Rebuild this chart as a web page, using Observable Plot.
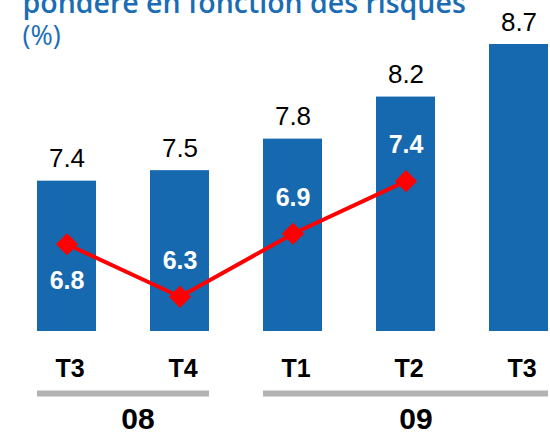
<!DOCTYPE html>
<html>
<head>
<meta charset="utf-8">
<script src="https://cdn.jsdelivr.net/npm/d3@7"></script>
<script src="https://cdn.jsdelivr.net/npm/@observablehq/plot@0.6"></script>
<style>
  html, body { margin: 0; padding: 0; background: #ffffff; }
  #chart svg { display: block; }
</style>
</head>
<body>
<div id="chart"></div>
<script>
// ---- data ----
const quarters = ["T3", "T4", "T1", "T2", "T3"];
const years = ["08", "08", "09", "09", "09"];
const barValues = [7.4, 7.5, 7.8, 8.2, 8.7];
const lineValues = [6.8, 6.3, 6.9, 7.4, null];
const yearLabels = ["08", "09"];
const titleText = "pondéré en fonction des risques";
const unitText = "(%)";

// ---- build table ----
const keys = quarters.map((q, i) => years[i] + " " + q);
const data = keys.map((k, i) => ({
  key: k, quarter: quarters[i], year: years[i], bar: barValues[i], line: lineValues[i]
}));
const lineData = data.filter(d => d.line != null);
const groups = yearLabels.map(y => {
  const ks = data.filter(d => d.year === y).map(d => d.key);
  return {year: y, first: ks[0], last: ks[ks.length - 1]};
});
const quarterOf = Object.fromEntries(data.map(d => [d.key, d.quarter]));

const yMin = 5.97;
const barColor = "#1769af";
const titleColor = "#1a6db5";
const sans = "'Liberation Sans', Arial, sans-serif";

const chart = Plot.plot({
  width: 550,
  height: 434,
  marginLeft: 36,
  marginRight: 2,
  marginTop: 44,
  marginBottom: 103,
  style: {background: "#ffffff", fontFamily: sans, color: "#000", overflow: "visible"},
  x: {domain: keys, paddingInner: 0.478, paddingOuter: 0, align: 0.5},
  y: {domain: [yMin, 8.7], axis: null},
  marks: [
    // title (partially cut at the top) and unit
    Plot.text([titleText], {frameAnchor: "top-left", text: d => d, textAnchor: "start", lineAnchor: "bottom",
      dx: -14, dy: -32, fontSize: 28.5, fontWeight: 600, fill: titleColor, fontFamily: "'Open Sans', sans-serif"}),
    Plot.text([unitText], {frameAnchor: "top-left", text: d => d, textAnchor: "start", lineAnchor: "bottom",
      dx: -14, dy: 0, fontSize: 27, fontWeight: 500, fill: titleColor, fontFamily: "'Open Sans', sans-serif"}),
    // bars
    Plot.barY(data, {x: "key", y1: yMin, y2: "bar", fill: barColor}),
    // bar value labels (above)
    Plot.text(data, {x: "key", y: "bar", text: d => d.bar.toFixed(1), lineAnchor: "bottom", dy: -14,
      fontSize: 26, fill: "#000", fontFamily: sans}),
    // red line with diamonds
    Plot.line(lineData, {x: "key", y: "line", stroke: "#ff0000", strokeWidth: 4}),
    Plot.dot(lineData, {x: "key", y: "line", symbol: "diamond2", r: 10, fill: "#ff0000", stroke: "none"}),
    // line labels (white, inside bars)
    Plot.text(lineData.slice(0, 1), {x: "key", y: "line", text: d => d.line.toFixed(1), lineAnchor: "bottom", dy: 45,
      fontSize: 25, fontWeight: "bold", fill: "#ffffff", fontFamily: sans}),
    Plot.text(lineData.slice(1), {x: "key", y: "line", text: d => d.line.toFixed(1), lineAnchor: "bottom", dy: -28,
      fontSize: 25, fontWeight: "bold", fill: "#ffffff", fontFamily: sans}),
    // quarter axis
    Plot.axisX({tickSize: 0, tickPadding: 28, fontSize: 25, fontWeight: "bold", fill: "#000",
      tickFormat: k => quarterOf[k], dx: 3, label: null, fontFamily: sans}),
    // year group rules
    Plot.ruleY(groups, {x1: "first", x2: "last", y: () => yMin, dy: 62, stroke: "#b3b3b3", strokeWidth: 6}),
    // year labels
    Plot.text(groups.slice(0, 1), {x: "last", y: () => yMin, text: "year", lineAnchor: "bottom", dy: 97, dx: -42,
      fontSize: 30, fontWeight: "bold", fill: "#000", fontFamily: sans}),
    Plot.text(groups.slice(1), {x: d => keys[keys.indexOf(d.first) + 1], y: () => yMin, text: "year", lineAnchor: "bottom", dy: 97, dx: 10,
      fontSize: 30, fontWeight: "bold", fill: "#000", fontFamily: sans})
  ]
});
document.getElementById("chart").appendChild(chart);
</script>
</body>
</html>
